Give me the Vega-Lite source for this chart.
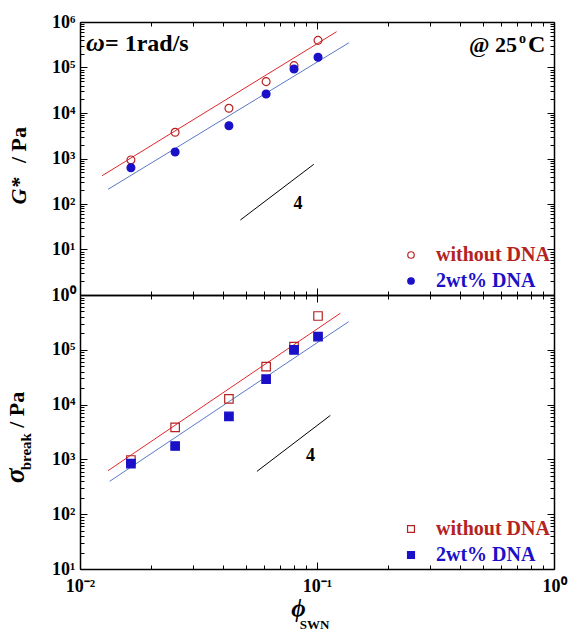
{
  "$schema": "https://vega.github.io/schema/vega-lite/v6.json",
  "background": "white",
  "padding": {"left": 2, "top": 13, "right": 5, "bottom": 2},
  "config": {
    "view": {"stroke": null},
    "axis": {"domainColor": "black", "domainWidth": 1.5, "tickColor": "black", "tickWidth": 1, "labelFont": "Liberation Serif", "labelFontSize": 18, "labelFontWeight": "bold", "labelColor": "black", "grid": false, "labelFlush": false, "labelOverlap": false, "labelBound": false},
    "text": {"font": "Liberation Serif", "fontWeight": "bold", "color": "black"}
  },
  "datasets": {
    "one": [{"k": 1}],
    "gpts": [
      {"phi": 0.0164, "val": 930, "sample": "without DNA"},
      {"phi": 0.0252, "val": 3770, "sample": "without DNA"},
      {"phi": 0.0425, "val": 12700, "sample": "without DNA"},
      {"phi": 0.061, "val": 48900, "sample": "without DNA"},
      {"phi": 0.080, "val": 110000, "sample": "without DNA"},
      {"phi": 0.101, "val": 395000, "sample": "without DNA"},
      {"phi": 0.0164, "val": 628, "sample": "2wt% DNA"},
      {"phi": 0.0252, "val": 1390, "sample": "2wt% DNA"},
      {"phi": 0.0425, "val": 5260, "sample": "2wt% DNA"},
      {"phi": 0.061, "val": 26200, "sample": "2wt% DNA"},
      {"phi": 0.080, "val": 92700, "sample": "2wt% DNA"},
      {"phi": 0.101, "val": 167500, "sample": "2wt% DNA"}
    ],
    "glines": [
      {"phi": 0.0124, "val": 419, "fit": "without DNA"},
      {"phi": 0.121, "val": 612000, "fit": "without DNA"},
      {"phi": 0.01313, "val": 210, "fit": "2wt% DNA"},
      {"phi": 0.1365, "val": 351000, "fit": "2wt% DNA"},
      {"phi": 0.0475, "val": 44.5, "fit": "slope"},
      {"phi": 0.0969, "val": 745, "fit": "slope"}
    ],
    "spts": [
      {"phi": 0.0164, "val": 975, "sample": "without DNA"},
      {"phi": 0.0252, "val": 3830, "sample": "without DNA"},
      {"phi": 0.0425, "val": 12760, "sample": "without DNA"},
      {"phi": 0.061, "val": 49400, "sample": "without DNA"},
      {"phi": 0.080, "val": 114500, "sample": "without DNA"},
      {"phi": 0.101, "val": 414000, "sample": "without DNA"},
      {"phi": 0.0164, "val": 835, "sample": "2wt% DNA"},
      {"phi": 0.0252, "val": 1755, "sample": "2wt% DNA"},
      {"phi": 0.0425, "val": 6080, "sample": "2wt% DNA"},
      {"phi": 0.061, "val": 29100, "sample": "2wt% DNA"},
      {"phi": 0.080, "val": 99600, "sample": "2wt% DNA"},
      {"phi": 0.101, "val": 174000, "sample": "2wt% DNA"}
    ],
    "slines": [
      {"phi": 0.01313, "val": 622, "fit": "without DNA"},
      {"phi": 0.1254, "val": 464000, "fit": "without DNA"},
      {"phi": 0.01334, "val": 398, "fit": "2wt% DNA"},
      {"phi": 0.136, "val": 326000, "fit": "2wt% DNA"},
      {"phi": 0.0558, "val": 605, "fit": "slope"},
      {"phi": 0.1138, "val": 6340, "fit": "slope"}
    ]
  },
  "vconcat": [
    {
      "width": 474,
      "height": 273,
      "resolve": {"axis": {"x": "independent", "y": "independent"}},
      "layer": [
        {
          "data": {"name": "glines"},
          "mark": {"type": "line", "strokeWidth": 1, "clip": false},
          "encoding": {
            "x": {"field": "phi", "type": "quantitative", "scale": {"type": "log", "domain": [0.01, 1], "nice": false},
              "axis": {"orient": "top", "title": null, "labels": false, "values": [0.01,0.02,0.03,0.04,0.05,0.06,0.07,0.08,0.09,0.1,0.2,0.3,0.4,0.5,0.6,0.7,0.8,0.9,1],
                "tickSize": {"condition": {"test": "datum.value == 0.01 || datum.value == 0.1 || datum.value == 1", "value": -7}, "value": -4}}},
            "y": {"field": "val", "type": "quantitative", "scale": {"type": "log", "domain": [1, 1000000], "nice": false},
              "axis": {"orient": "right", "title": null, "labels": false, "values": [1,2,3,4,5,6,7,8,9,10,20,30,40,50,60,70,80,90,100,200,300,400,500,600,700,800,900,1000,2000,3000,4000,5000,6000,7000,8000,9000,10000,20000,30000,40000,50000,60000,70000,80000,90000,100000,200000,300000,400000,500000,600000,700000,800000,900000,1000000],
                "tickSize": {"condition": {"test": "abs(log(datum.value)/LN10 - round(log(datum.value)/LN10)) < 0.001", "value": -7}, "value": -4}}},
            "color": {"field": "fit", "type": "nominal", "scale": {"domain": ["without DNA", "2wt% DNA", "slope"], "range": ["#e3262a", "#5a7ac4", "#000000"]}, "legend": null}
          }
        },
        {
          "data": {"name": "gpts"},
          "mark": {"type": "point", "shape": "circle", "size": 62, "strokeWidth": 1.2, "filled": false, "opacity": 1},
          "encoding": {
            "x": {"field": "phi", "type": "quantitative", "scale": {"type": "log", "domain": [0.01, 1], "nice": false},
              "axis": {"orient": "bottom", "title": null, "labels": false, "values": [0.01,0.02,0.03,0.04,0.05,0.06,0.07,0.08,0.09,0.1,0.2,0.3,0.4,0.5,0.6,0.7,0.8,0.9,1],
                "tickSize": {"condition": {"test": "datum.value == 0.01 || datum.value == 0.1 || datum.value == 1", "value": -7}, "value": -4}}},
            "y": {"field": "val", "type": "quantitative", "scale": {"type": "log", "domain": [1, 1000000], "nice": false},
              "axis": {"orient": "left", "title": null, "labelPadding": 12, "values": [1,2,3,4,5,6,7,8,9,10,20,30,40,50,60,70,80,90,100,200,300,400,500,600,700,800,900,1000,2000,3000,4000,5000,6000,7000,8000,9000,10000,20000,30000,40000,50000,60000,70000,80000,90000,100000,200000,300000,400000,500000,600000,700000,800000,900000,1000000],
                "labelExpr": "abs(log(datum.value)/LN10 - round(log(datum.value)/LN10)) < 0.001 ? '10' + ['⁰','¹','²','³','⁴','⁵','⁶'][round(log(datum.value)/LN10)] : ''",
                "tickSize": {"condition": {"test": "abs(log(datum.value)/LN10 - round(log(datum.value)/LN10)) < 0.001", "value": -7}, "value": -4}}},
            "stroke": {"field": "sample", "type": "nominal", "scale": {"domain": ["without DNA", "2wt% DNA"], "range": ["#b52222", "#1a10c8"]},
              "legend": {"orient": "bottom-right", "title": null, "offset": 4, "padding": 0, "labelFont": "Liberation Serif", "labelFontSize": 20, "labelFontWeight": "bold", "symbolSize": 42, "symbolStrokeWidth": 1.2, "labelOffset": 15, "rowPadding": 6,
                "labelColor": {"expr": "datum.value == 'without DNA' ? '#b52222' : '#1a10c8'"}}},
            "fill": {"field": "sample", "type": "nominal", "scale": {"domain": ["without DNA", "2wt% DNA"], "range": ["transparent", "#1a10c8"]},
              "legend": {"orient": "bottom-right", "title": null, "offset": 4, "padding": 0, "labelFont": "Liberation Serif", "labelFontSize": 20, "labelFontWeight": "bold", "symbolSize": 42, "symbolStrokeWidth": 1.2, "labelOffset": 15, "rowPadding": 6,
                "labelColor": {"expr": "datum.value == 'without DNA' ? '#b52222' : '#1a10c8'"}}}
          }
        },
        {"data": {"name": "one"}, "mark": {"type": "text", "text": "ω", "fontSize": 26, "fontStyle": "italic", "align": "left", "baseline": "alphabetic"},
          "encoding": {"x": {"datum": 0.0106, "type": "quantitative", "axis": null}, "y": {"datum": 230600, "type": "quantitative", "axis": null}}},
        {"data": {"name": "one"}, "mark": {"type": "text", "text": "= 1rad/s", "fontSize": 24, "align": "left", "baseline": "alphabetic"},
          "encoding": {"x": {"datum": 0.01275, "type": "quantitative", "axis": null}, "y": {"datum": 230600, "type": "quantitative", "axis": null}}},
        {"data": {"name": "one"}, "mark": {"type": "text", "text": "@ 25", "fontSize": 22, "align": "right", "baseline": "alphabetic"},
          "encoding": {"x": {"datum": 0.698, "type": "quantitative", "axis": null}, "y": {"datum": 219000, "type": "quantitative", "axis": null}}},
        {"data": {"name": "one"}, "mark": {"type": "text", "text": "o", "fontSize": 14, "align": "left", "baseline": "alphabetic"},
          "encoding": {"x": {"datum": 0.711, "type": "quantitative", "axis": null}, "y": {"datum": 340000, "type": "quantitative", "axis": null}}},
        {"data": {"name": "one"}, "mark": {"type": "text", "text": "C", "fontSize": 24, "align": "left", "baseline": "alphabetic"},
          "encoding": {"x": {"datum": 0.776, "type": "quantitative", "axis": null}, "y": {"datum": 219000, "type": "quantitative", "axis": null}}},
        {"data": {"name": "one"}, "mark": {"type": "text", "text": "4", "fontSize": 18, "align": "center", "baseline": "middle"},
          "encoding": {"x": {"datum": 0.0832, "type": "quantitative", "axis": null}, "y": {"datum": 100, "type": "quantitative", "axis": null}}},
        {"data": {"name": "one"}, "mark": {"type": "text", "text": "G*", "fontSize": 22, "fontStyle": "italic", "angle": 270, "align": "center", "baseline": "alphabetic"},
          "encoding": {"x": {"datum": 0.00592, "type": "quantitative", "axis": null}, "y": {"datum": 193, "type": "quantitative", "axis": null}}},
        {"data": {"name": "one"}, "mark": {"type": "text", "text": "/ Pa", "fontSize": 22, "angle": 270, "align": "center", "baseline": "alphabetic"},
          "encoding": {"x": {"datum": 0.00592, "type": "quantitative", "axis": null}, "y": {"datum": 1982, "type": "quantitative", "axis": null}}}
      ]
    },
    {
      "width": 474,
      "height": 274,
      "resolve": {"axis": {"x": "independent", "y": "independent"}},
      "layer": [
        {
          "data": {"name": "slines"},
          "mark": {"type": "line", "strokeWidth": 1, "clip": false},
          "encoding": {
            "x": {"field": "phi", "type": "quantitative", "scale": {"type": "log", "domain": [0.01, 1], "nice": false},
              "axis": {"orient": "top", "title": null, "labels": false, "values": [0.01,0.02,0.03,0.04,0.05,0.06,0.07,0.08,0.09,0.1,0.2,0.3,0.4,0.5,0.6,0.7,0.8,0.9,1],
                "tickSize": {"condition": {"test": "datum.value == 0.01 || datum.value == 0.1 || datum.value == 1", "value": -7}, "value": -4}}},
            "y": {"field": "val", "type": "quantitative", "scale": {"type": "log", "domain": [10, 1000000], "nice": false},
              "axis": {"orient": "right", "title": null, "labels": false, "values": [10,20,30,40,50,60,70,80,90,100,200,300,400,500,600,700,800,900,1000,2000,3000,4000,5000,6000,7000,8000,9000,10000,20000,30000,40000,50000,60000,70000,80000,90000,100000,200000,300000,400000,500000,600000,700000,800000,900000,1000000],
                "tickSize": {"condition": {"test": "abs(log(datum.value)/LN10 - round(log(datum.value)/LN10)) < 0.001", "value": -7}, "value": -4}}},
            "color": {"field": "fit", "type": "nominal", "scale": {"domain": ["without DNA", "2wt% DNA", "slope"], "range": ["#e3262a", "#5a7ac4", "#000000"]}, "legend": null}
          }
        },
        {
          "data": {"name": "spts"},
          "mark": {"type": "point", "shape": "square", "size": 72, "strokeWidth": 1.2, "filled": false, "opacity": 1},
          "encoding": {
            "x": {"field": "phi", "type": "quantitative", "scale": {"type": "log", "domain": [0.01, 1], "nice": false},
              "axis": {"orient": "bottom", "title": null, "labelPadding": 15, "values": [0.01,0.02,0.03,0.04,0.05,0.06,0.07,0.08,0.09,0.1,0.2,0.3,0.4,0.5,0.6,0.7,0.8,0.9,1],
                "labelExpr": "datum.value == 0.01 ? '10⁻²' : datum.value == 0.1 ? '10⁻¹' : datum.value == 1 ? '10⁰' : ''",
                "tickSize": {"condition": {"test": "datum.value == 0.01 || datum.value == 0.1 || datum.value == 1", "value": -7}, "value": -4}}},
            "y": {"field": "val", "type": "quantitative", "scale": {"type": "log", "domain": [10, 1000000], "nice": false},
              "axis": {"orient": "left", "title": null, "labelPadding": 12, "values": [10,20,30,40,50,60,70,80,90,100,200,300,400,500,600,700,800,900,1000,2000,3000,4000,5000,6000,7000,8000,9000,10000,20000,30000,40000,50000,60000,70000,80000,90000,100000,200000,300000,400000,500000,600000,700000,800000,900000,1000000],
                "labelExpr": "abs(log(datum.value)/LN10 - round(log(datum.value)/LN10)) < 0.001 && datum.value < 500000 ? '10' + ['⁰','¹','²','³','⁴','⁵','⁶'][round(log(datum.value)/LN10)] : ''",
                "tickSize": {"condition": {"test": "abs(log(datum.value)/LN10 - round(log(datum.value)/LN10)) < 0.001", "value": -7}, "value": -4}}},
            "stroke": {"field": "sample", "type": "nominal", "scale": {"domain": ["without DNA", "2wt% DNA"], "range": ["#b52222", "#1a10c8"]},
              "legend": {"orient": "bottom-right", "title": null, "offset": 4, "padding": 0, "labelFont": "Liberation Serif", "labelFontSize": 20, "labelFontWeight": "bold", "symbolSize": 48, "symbolStrokeWidth": 1.2, "labelOffset": 15, "rowPadding": 6,
                "labelColor": {"expr": "datum.value == 'without DNA' ? '#b52222' : '#1a10c8'"}}},
            "fill": {"field": "sample", "type": "nominal", "scale": {"domain": ["without DNA", "2wt% DNA"], "range": ["transparent", "#1a10c8"]},
              "legend": {"orient": "bottom-right", "title": null, "offset": 4, "padding": 0, "labelFont": "Liberation Serif", "labelFontSize": 20, "labelFontWeight": "bold", "symbolSize": 48, "symbolStrokeWidth": 1.2, "labelOffset": 15, "rowPadding": 6,
                "labelColor": {"expr": "datum.value == 'without DNA' ? '#b52222' : '#1a10c8'"}}}
          }
        },
        {"data": {"name": "one"}, "mark": {"type": "text", "text": "4", "fontSize": 18, "align": "center", "baseline": "middle"},
          "encoding": {"x": {"datum": 0.0939, "type": "quantitative", "axis": null}, "y": {"datum": 1167, "type": "quantitative", "axis": null}}},
        {"data": {"name": "one"}, "mark": {"type": "text", "text": "σ", "fontSize": 27, "fontStyle": "italic", "angle": 270, "align": "center", "baseline": "alphabetic"},
          "encoding": {"x": {"datum": 0.00581, "type": "quantitative", "axis": null}, "y": {"datum": 505, "type": "quantitative", "axis": null}}},
        {"data": {"name": "one"}, "mark": {"type": "text", "text": "break", "fontSize": 15, "angle": 270, "align": "center", "baseline": "alphabetic"},
          "encoding": {"x": {"datum": 0.00621, "type": "quantitative", "axis": null}, "y": {"datum": 1380, "type": "quantitative", "axis": null}}},
        {"data": {"name": "one"}, "mark": {"type": "text", "text": "/ Pa", "fontSize": 22, "angle": 270, "align": "center", "baseline": "alphabetic"},
          "encoding": {"x": {"datum": 0.00581, "type": "quantitative", "axis": null}, "y": {"datum": 8040, "type": "quantitative", "axis": null}}},
        {"data": {"name": "one"}, "mark": {"type": "text", "text": "ϕ", "fontSize": 25, "fontStyle": "italic", "align": "center", "baseline": "alphabetic"},
          "encoding": {"x": {"datum": 0.0835, "type": "quantitative", "axis": null}, "y": {"datum": 1.35, "type": "quantitative", "axis": null}}},
        {"data": {"name": "one"}, "mark": {"type": "text", "text": "SWN", "fontSize": 13, "align": "left", "baseline": "alphabetic"},
          "encoding": {"x": {"datum": 0.0845, "type": "quantitative", "axis": null}, "y": {"datum": 0.82, "type": "quantitative", "axis": null}}}
      ]
    }
  ],
  "spacing": 0,
  "bounds": "flush",
  "resolve": {"scale": {"stroke": "independent", "fill": "independent", "color": "independent"}}
}
